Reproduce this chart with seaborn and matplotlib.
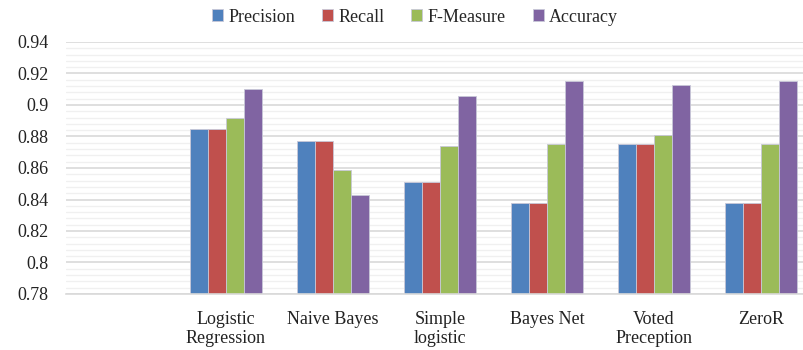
import seaborn as sns
import matplotlib.pyplot as plt
import pandas as pd
import numpy as np
from matplotlib.ticker import MultipleLocator, FormatStrFormatter

# data (first slot on the axis is left empty)
models    = ["", "Logistic\nRegression", "Naive Bayes", "Simple\nlogistic",
             "Bayes Net", "Voted\nPreception", "ZeroR"]
precision = [0.885, 0.877, 0.851, 0.838, 0.875, 0.838]
recall    = [0.885, 0.877, 0.851, 0.838, 0.875, 0.838]
fmeasure  = [0.892, 0.859, 0.874, 0.875, 0.881, 0.875]
accuracy  = [0.910, 0.843, 0.906, 0.915, 0.913, 0.915]
metrics   = ["Precision", "Recall", "F-Measure", "Accuracy"]
colors    = ["#4F81BD", "#C0504D", "#9BBB59", "#8064A2"]

rows = []
for name, vals in zip(metrics, [precision, recall, fmeasure, accuracy]):
    for m, v in zip(models[1:], vals):
        rows.append({"Model": m, "Metric": name, "Value": v})
df = pd.DataFrame(rows)

sns.set_style("white")
plt.rcParams["font.family"] = ["Liberation Serif", "DejaVu Serif"]

fig = plt.figure(figsize=(8.04, 3.5), dpi=100)
ax = fig.add_axes([65.5/804, 56/350, 749/804, 252/350])

sns.barplot(data=df, x="Model", y="Value", hue="Metric", order=models,
            hue_order=metrics, palette=colors, width=0.665, ax=ax,
            edgecolor="#c8c8d8", linewidth=0.6, saturation=1)

ax.set_ylim(0.78, 0.94)
ax.set_xlim(-0.5, 6.5)
ax.yaxis.set_major_locator(MultipleLocator(0.02))
ax.yaxis.set_minor_locator(MultipleLocator(0.004))
ax.yaxis.set_major_formatter(FormatStrFormatter("%g"))
ax.grid(axis="y", which="major", color="#d9d9d9", linewidth=1.2)
ax.grid(axis="y", which="minor", color="#f0f0f0", linewidth=1.0)
ax.set_axisbelow(True)
for s in ["top", "right", "left"]:
    ax.spines[s].set_visible(False)
ax.spines["bottom"].set_color("#d9d9d9")
ax.spines["bottom"].set_linewidth(1.2)
ax.tick_params(axis="both", length=0, labelsize=13, colors="#222222", pad=12)
ax.tick_params(axis="y", pad=12)
ax.set_xlabel("")
ax.set_ylabel("")

h, l = ax.get_legend_handles_labels()
ax.legend(h, l, loc="center", bbox_to_anchor=(415/804, 1 - 17/350),
          bbox_transform=fig.transFigure, ncol=4, frameon=False,
          fontsize=13, handlelength=0.6, handleheight=0.6,
          handletextpad=0.3, columnspacing=1.5)

fig.savefig("out.png", dpi=100)
